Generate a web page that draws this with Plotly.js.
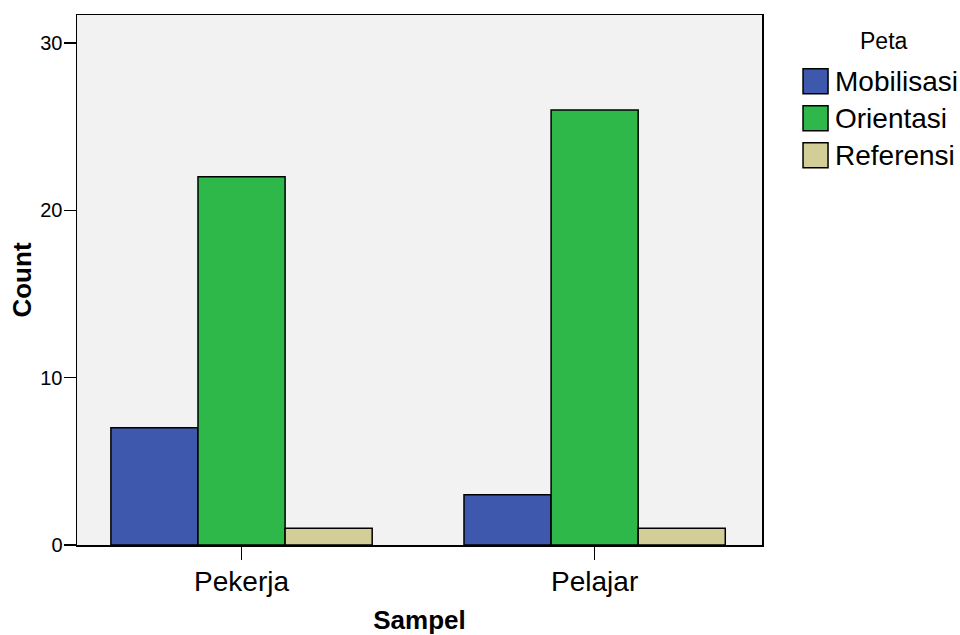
<!DOCTYPE html>
<html><head><meta charset="utf-8">
<script src="https://cdn.plot.ly/plotly-3.0.1.min.js"></script>
<style>html,body{margin:0;padding:0;background:#fff;}#chart{width:960px;height:635px;}</style>
</head><body><div id="chart"></div>
<script>
const categories = ["Pekerja", "Pelajar"];
const seriesNames = ["Mobilisasi", "Orientasi", "Referensi"];
const mobilisasi = [7, 3];
const orientasi = [22, 26];
const referensi = [1, 1];
const seriesValues = [mobilisasi, orientasi, referensi];
const colors = ["#3d58ac", "#2fb84a", "#d3ce97"];
const yTicks = [0, 10, 20, 30];

const traces = seriesNames.map((n, i) => ({
  type: "bar", name: n, x: categories, y: seriesValues[i],
  marker: {color: colors[i], line: {color: "#000", width: 1.5}},
  showlegend: false, hoverinfo: "x+y+name"
}));

const shapes = [], annotations = [];
annotations.push({xref: "paper", yref: "paper", x: 1.178, y: 0.951, xanchor: "center", yanchor: "middle",
  text: "Peta", showarrow: false, font: {family: "Liberation Sans, Arial", size: 23, color: "#000"}});
seriesNames.forEach((n, i) => {
  const yc = 0.875 - i * 0.0698;
  shapes.push({type: "rect", xref: "paper", yref: "paper", x0: 1.0599, x1: 1.0964,
    y0: yc - 0.0235, y1: yc + 0.0235, fillcolor: colors[i], line: {color: "#000", width: 1.5}});
  annotations.push({xref: "paper", yref: "paper", x: 1.103, y: yc, xanchor: "left", yanchor: "middle",
    text: n, showarrow: false, font: {family: "Liberation Sans, Arial", size: 28, color: "#000"}});
});

const layout = {
  width: 960, height: 635,
  margin: {l: 77, r: 198, t: 15, b: 90},
  paper_bgcolor: "#fff", plot_bgcolor: "#f2f2f2",
  bargap: 0.26, bargroupgap: 0, barmode: "group",
  font: {family: "Liberation Sans, Arial", color: "#000"},
  xaxis: {
    range: [-0.466, 1.474], showgrid: false, zeroline: false,
    showline: true, linecolor: "#000", linewidth: 1.5, mirror: true,
    ticks: "outside", ticklen: 13, tickwidth: 1.5, tickcolor: "#000",
    tickfont: {size: 28}, ticklabelstandoff: -2,
    title: {text: "<b>Sampel</b>", font: {size: 26}, standoff: 24}
  },
  yaxis: {
    range: [0, 31.67], showgrid: false, zeroline: false,
    showline: true, linecolor: "#000", linewidth: 1.5, mirror: true,
    ticks: "outside", ticklen: 12, tickwidth: 1.5, tickcolor: "#000",
    tickvals: yTicks, ticktext: yTicks.map(String), tickfont: {size: 20},
    ticklabelstandoff: -3,
    title: {text: "<b>Count</b>", font: {size: 26}, standoff: 1}
  },
  shapes: shapes, annotations: annotations, showlegend: false
};
Plotly.newPlot("chart", traces, layout, {displayModeBar: false, staticPlot: true});
</script></body></html>
